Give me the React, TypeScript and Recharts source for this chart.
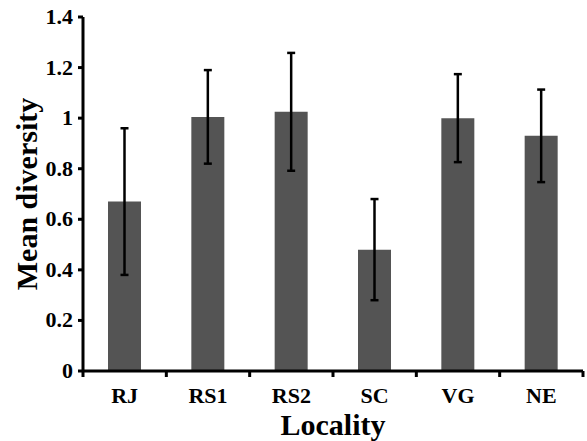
import React from 'react';
import { BarChart, Bar, XAxis, YAxis, ErrorBar } from 'recharts';

const localities = ['RJ', 'RS1', 'RS2', 'SC', 'VG', 'NE'];
const meanDiversity = [0.67, 1.005, 1.025, 0.48, 1.0, 0.93];
const stdError = [0.29, 0.185, 0.233, 0.2, 0.174, 0.183];
const yTicks = [0, 0.2, 0.4, 0.6, 0.8, 1, 1.2, 1.4];

const data = localities.map((name, i) => ({ name, mean: meanDiversity[i], err: stdError[i] }));

const FONT = '"Liberation Serif", "Times New Roman", Times, serif';

// ticks sit between the categories, labels in the middle
const LocalityTick = (props: any) => {
  const { x, y, payload, index } = props;
  const half = payload.offset || 0;
  const isLast = index === localities.length - 1;
  return (
    <g>
      <line x1={x - half} x2={x - half} y1={y} y2={y + 6} stroke="#000" strokeWidth={3} />
      {isLast && <line x1={x + half} x2={x + half} y1={y} y2={y + 6} stroke="#000" strokeWidth={3} />}
      <text x={x} y={y + 32} textAnchor="middle" fontFamily={FONT} fontWeight="bold" fontSize={22} fill="#000">
        {payload.value}
      </text>
    </g>
  );
};

const ValueTick = (props: any) => {
  const { x, y, payload } = props;
  return (
    <text x={x} y={y + 7} textAnchor="end" fontFamily={FONT} fontWeight="bold" fontSize={22} fill="#000">
      {payload.value}
    </text>
  );
};

const YTitle = (props: any) => {
  const { viewBox } = props;
  const cx = 37;
  const cy = viewBox.y + viewBox.height / 2;
  return (
    <text
      x={cx}
      y={cy}
      transform={`rotate(-90, ${cx}, ${cy})`}
      textAnchor="middle"
      fontFamily={FONT}
      fontWeight="bold"
      fontSize={30}
      fill="#000"
    >
      Mean diversity
    </text>
  );
};

const XTitle = (props: any) => {
  const { viewBox } = props;
  return (
    <text
      x={viewBox.x + viewBox.width / 2}
      y={435}
      textAnchor="middle"
      fontFamily={FONT}
      fontWeight="bold"
      fontSize={30}
      fill="#000"
    >
      Locality
    </text>
  );
};

export default function App() {
  return (
    <div style={{ position: 'absolute', left: 0, top: 0, background: '#fff' }}>
      <BarChart
        width={587}
        height={441}
        data={data}
        margin={{ top: 17, right: 4, left: 0, bottom: 0 }}
        barCategoryGap="30%"
      >
        <XAxis
          dataKey="name"
          height={70}
          tickSize={0}
          tickMargin={0}
          tickLine={false}
          axisLine={{ stroke: '#000', strokeWidth: 3 }}
          tick={<LocalityTick />}
          label={<XTitle />}
        />
        <YAxis
          width={83}
          domain={[0, 1.4]}
          ticks={yTicks}
          interval={0}
          tickSize={5}
          tickMargin={5}
          axisLine={{ stroke: '#000', strokeWidth: 3 }}
          tickLine={{ stroke: '#000', strokeWidth: 3 }}
          tick={<ValueTick />}
          label={<YTitle />}
        />
        <Bar dataKey="mean" fill="#545454" isAnimationActive={false}>
          <ErrorBar dataKey="err" direction="y" width={4} stroke="#000" strokeWidth={2.5} />
        </Bar>
      </BarChart>
    </div>
  );
}
